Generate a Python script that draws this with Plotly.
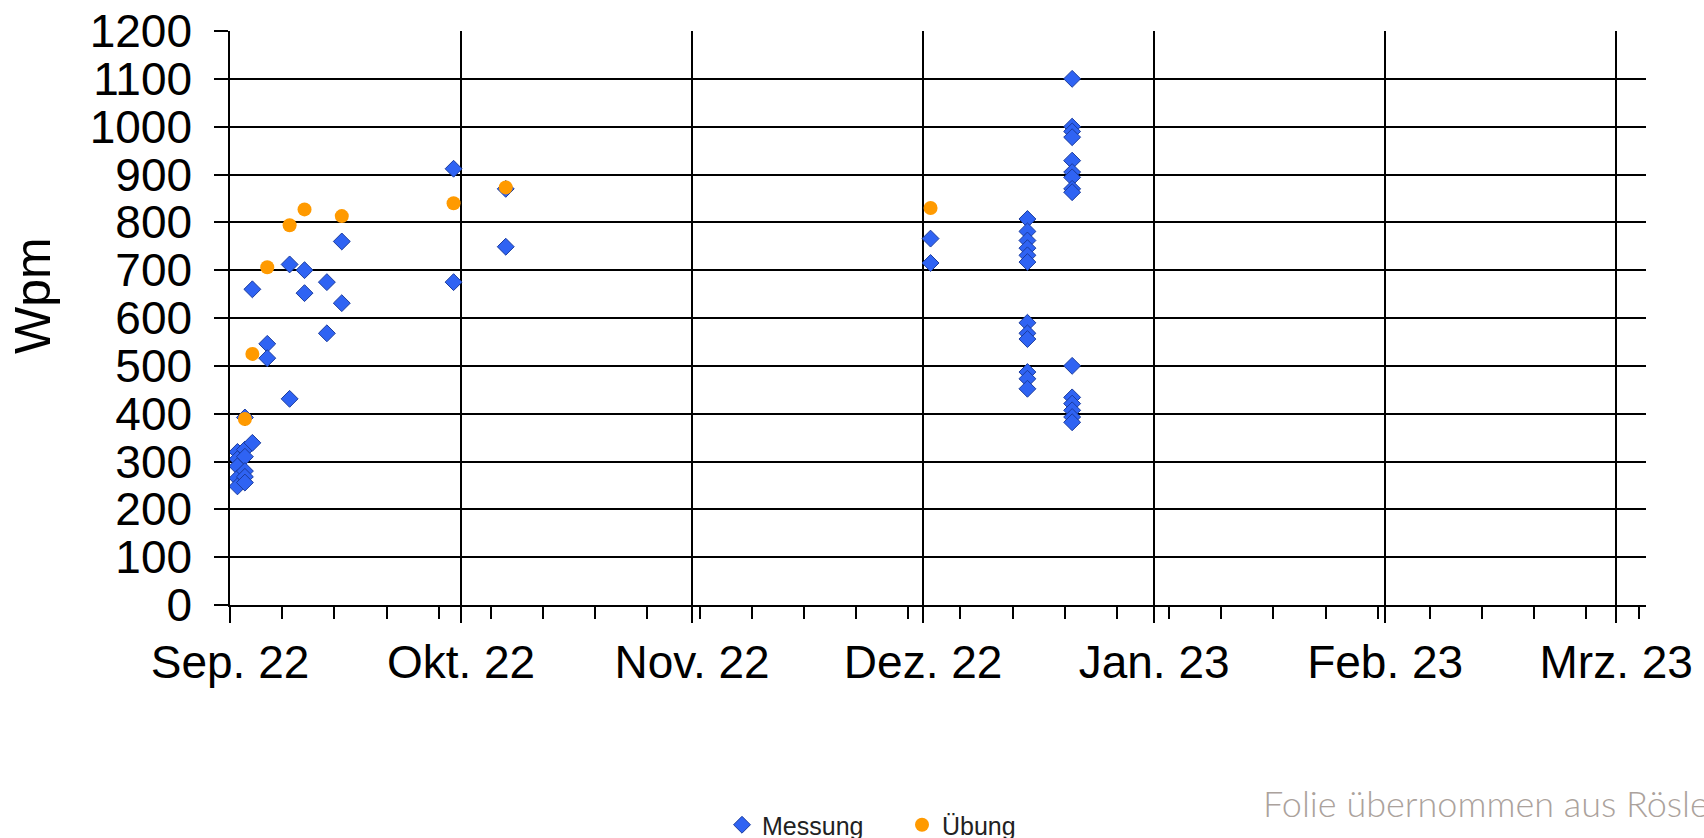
import plotly.graph_objects as go

# Messung: measured words per minute (blue diamonds)
messung_dates = [
    "2022-09-02", "2022-09-02", "2022-09-02", "2022-09-02", "2022-09-02",
    "2022-09-03", "2022-09-03", "2022-09-03", "2022-09-03", "2022-09-03", "2022-09-03",
    "2022-09-04", "2022-09-04",
    "2022-09-06", "2022-09-06",
    "2022-09-09", "2022-09-09",
    "2022-09-11", "2022-09-11",
    "2022-09-14", "2022-09-14",
    "2022-09-16", "2022-09-16",
    "2022-10-01", "2022-10-01",
    "2022-10-08", "2022-10-08",
    "2022-12-04", "2022-12-04",
    "2022-12-17", "2022-12-17", "2022-12-17", "2022-12-17", "2022-12-17", "2022-12-17",
    "2022-12-17", "2022-12-17", "2022-12-17", "2022-12-17", "2022-12-17", "2022-12-17",
    "2022-12-23", "2022-12-23", "2022-12-23", "2022-12-23", "2022-12-23", "2022-12-23",
    "2022-12-23", "2022-12-23", "2022-12-23", "2022-12-23", "2022-12-23", "2022-12-23",
    "2022-12-23", "2022-12-23", "2022-12-23",
]
messung_wpm = [
    320, 305, 290, 265, 248,
    325, 310, 280, 268, 256, 392,
    660, 339,
    546, 516,
    712, 431,
    700, 652,
    675, 568,
    760, 631,
    912, 675,
    870, 749,
    766, 715,
    807, 781, 762, 746, 731, 717,
    590, 568, 556, 487, 473, 452,
    1100, 1000, 990, 978, 929, 905,
    894, 870, 863, 500, 434, 421,
    407, 393, 382,
]

# Übung: practice sessions (orange dots)
uebung_dates = [
    "2022-09-03", "2022-09-04", "2022-09-06", "2022-09-09", "2022-09-11",
    "2022-09-16", "2022-10-01", "2022-10-08", "2022-12-04",
]
uebung_wpm = [389, 525, 706, 794, 827, 813, 840, 873, 830]

# x axis: major unit of 31 days starting 1 Sep 2022, labelled by month
month_ticks = ["2022-09-01", "2022-10-02", "2022-11-02", "2022-12-03",
               "2023-01-03", "2023-02-03", "2023-03-06"]
month_labels = ["Sep. 22", "Okt. 22", "Nov. 22", "Dez. 22",
                "Jan. 23", "Feb. 23", "Mrz. 23"]
x_range = ["2022-09-01", "2023-03-10"]

y_ticks = [0, 100, 200, 300, 400, 500, 600, 700, 800, 900, 1000, 1100, 1200]

ARIAL = "Arial, 'Liberation Sans', sans-serif"

W, H = 1704, 838
M_L, M_R, M_T, M_B = 230, 58, 31, 233
plot_h = H - M_T - M_B


def py(px):
    """pixel row -> paper y"""
    return (H - M_B - px) / plot_h


def pxx(px):
    """pixel column -> paper x"""
    return (px - M_L) / (W - M_L - M_R)


fig = go.Figure()
fig.add_trace(go.Scatter(
    x=messung_dates, y=messung_wpm, mode="markers", name="Messung",
    marker=dict(symbol="diamond", size=13, color="#2F63F3",
                line=dict(color="#1B3C9E", width=1)),
))
fig.add_trace(go.Scatter(
    x=uebung_dates, y=uebung_wpm, mode="markers", name="Übung",
    marker=dict(symbol="circle", size=14, color="#FF9A00",
                line=dict(width=0)),
))

fig.update_layout(
    width=W, height=H,
    margin=dict(l=M_L, r=M_R, t=M_T, b=M_B, autoexpand=False),
    paper_bgcolor="white", plot_bgcolor="white",
    showlegend=True,
    legend=dict(
        orientation="h", x=pxx(722), xanchor="left",
        y=py(825), yanchor="middle",
        font=dict(family=ARIAL, size=25, color="#222222"),
        bgcolor="rgba(0,0,0,0)", entrywidth=135, entrywidthmode="pixels",
        itemclick=False,
    ),
    xaxis=dict(
        type="date", range=x_range,
        tickmode="array", tickvals=month_ticks, ticktext=month_labels,
        ticks="outside", ticklen=16, tickwidth=1.5, tickcolor="black",
        showgrid=True, gridcolor="black", gridwidth=1.5,
        showline=True, linecolor="black", linewidth=1.5,
        zeroline=False,
        tickfont=dict(family=ARIAL, size=46, color="black"),
        ticklabelstandoff=0,
        minor=dict(dtick=7 * 86400000, tick0="2022-09-01", ticks="outside",
                   ticklen=12, tickwidth=1.5, tickcolor="black", showgrid=False),
    ),
    yaxis=dict(
        range=[0, 1200], tickmode="array", tickvals=y_ticks,
        ticks="outside", ticklen=14, tickwidth=1.5, tickcolor="black",
        showgrid=True, gridcolor="black", gridwidth=1.5,
        showline=True, linecolor="black", linewidth=1.5,
        zeroline=False,
        tickfont=dict(family=ARIAL, size=46, color="black"),
        ticklabelstandoff=13,
    ),
    annotations=[
        dict(text="Wpm", xref="paper", yref="paper", x=pxx(33), y=py(296),
             xanchor="center", yanchor="middle", textangle=-90, showarrow=False,
             font=dict(family=ARIAL, size=50, color="black")),
        dict(text="Folie übernommen aus Rösle", xref="paper", yref="paper",
             x=pxx(1261), y=py(803), xanchor="left", yanchor="middle",
             showarrow=False,
             font=dict(family="Lato, 'Open Sans', sans-serif", size=36,
                       color="#ABA29C", weight=300)),
    ],
)

fig.write_html("out.html")
